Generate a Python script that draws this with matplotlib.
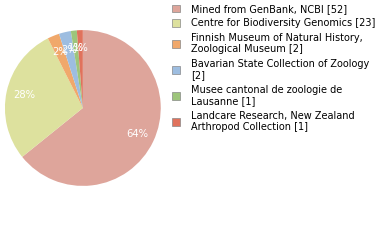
import matplotlib
matplotlib.use("Agg")
import matplotlib.pyplot as plt
from matplotlib.patches import Patch

labels = ["Mined from GenBank, NCBI [52]",
          "Centre for Biodiversity Genomics [23]",
          "Finnish Museum of Natural History,\nZoological Museum [2]",
          "Bavarian State Collection of Zoology\n[2]",
          "Musee cantonal de zoologie de\nLausanne [1]",
          "Landcare Research, New Zealand\nArthropod Collection [1]"]
counts = [52, 23, 2, 2, 1, 1]
colors = ["#dea59b", "#dde19e", "#f0a86b", "#9dbde0", "#9dc57b", "#e0725c"]

fig = plt.figure(figsize=(3.8, 2.4), dpi=100)
ax = fig.add_axes([0.013, 0.225, 0.41, 0.65])

wedges, texts, autotexts = ax.pie(counts, colors=colors, startangle=90, counterclock=False,
                                  autopct=lambda p: "%d%%" % round(p), pctdistance=0.77,
                                  textprops=dict(color="white", fontsize=7.2))
ax.set_xlim(-1, 1)
ax.set_ylim(-1, 1)
ax.set_aspect("equal")

handles = [Patch(facecolor=c, edgecolor="#888888", linewidth=0.5) for c in colors]
fig.legend(handles, labels, loc="upper left", bbox_to_anchor=(0.43, 1.02), frameon=False,
           fontsize=7.0, handlelength=0.85, handleheight=0.85, handletextpad=1.1,
           labelspacing=0.45)

fig.savefig("out.png", dpi=100)
